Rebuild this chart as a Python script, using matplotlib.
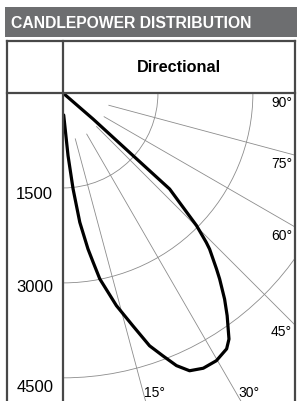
import matplotlib
matplotlib.use("Agg")
import matplotlib.pyplot as plt
from matplotlib.lines import Line2D
from matplotlib.patches import Rectangle, Circle
import numpy as np

W, H = 297, 401

TITLE = "CANDLEPOWER DISTRIBUTION"
SUBTITLE = "Directional"
RINGS = [1500, 3000, 4500]
RING_LABELS = ["1500", "3000", "4500"]
SPOKES = [15, 30, 45, 60, 75, 90]
SPOKE_LABELS = ["15°", "30°", "45°", "60°", "75°", "90°"]

# candlepower curve: angle from nadir (deg) and candela
CURVE_ANGLE = [1.8, 4.6, 6.0, 7.4, 9.1, 10.1, 11.2, 14.1, 16.7, 18.9, 20.8,
               22.6, 24.5, 27.0, 29.8, 32.6, 34.0, 36.4, 38.1, 40.1, 41.1,
               43.2, 43.8, 45.2, 48.0, 48.2, 49.1, 49.5]
CURVE_CD = [348, 994, 1525, 2060, 2496, 2716, 2995, 3464, 3839, 4221, 4441,
            4665, 4822, 4880, 4874, 4798, 4689, 4370, 4137, 3842, 3689,
            3383, 3270, 2973, 2267, 1485, 627, 0]

LINE = "#484848"
GRID = "#8c8c8c"
HEADER = "#6d6e70"
FONT = ["Liberation Sans", "DejaVu Sans"]


def fx(px):
    return px / W


def fy(py):
    return 1 - py / H


fig = plt.figure(figsize=(W / 100, H / 100), dpi=100)

# header band
fig.patches.append(Rectangle((fx(5), fy(37)), fx(292), 30 / H, transform=fig.transFigure,
                             facecolor=HEADER, edgecolor="none"))
fig.text(fx(11), fy(24), TITLE, color="white", fontsize=11.3, fontweight="bold",
         family=FONT, ha="left", va="center")

# table lines
for (x0, y0, x1, y1) in [(7, 41, 7, 401), (295, 41, 295, 401), (63, 41, 63, 401),
                         (7, 41, 295, 41), (7, 93, 295, 93)]:
    fig.lines.append(Line2D([fx(x0), fx(x1)], [fy(y0), fy(y1)], transform=fig.transFigure,
                            color=LINE, lw=1.6, solid_capstyle="projecting"))

fig.text(fx(179), fy(67.5), SUBTITLE, fontsize=11.7, fontweight="bold",
         family=FONT, ha="center", va="center")

# polar plot area
ax = fig.add_axes([fx(63), 0, fx(232), fy(93)])
ax.set_xlim(0, 232 / 0.0633)
ax.set_ylim(308 / 0.0633, 0)
ax.axis("off")

for r in RINGS:
    ax.add_patch(Circle((0, 0), r, facecolor="none", edgecolor=GRID, lw=0.6))

for a in SPOKES:
    t = np.radians(a)
    ax.plot([750 * np.sin(t), 9000 * np.sin(t)], [750 * np.cos(t), 9000 * np.cos(t)],
            color=GRID, lw=0.6)

th = np.radians(CURVE_ANGLE)
cd = np.array(CURVE_CD)
ax.plot(cd * np.sin(th), cd * np.cos(th), color="black", lw=2.3,
        solid_joinstyle="round", solid_capstyle="round")

for r, lab, yc in zip(RINGS, RING_LABELS, [1596, 3065, 4645]):
    ax.text(-0.122, yc, lab, transform=ax.get_yaxis_transform(), ha="center",
            va="center", fontsize=12, family=FONT, clip_on=False)

for lab, yc in zip(SPOKE_LABELS[2:], [3776, 2259, 1122, 158]):
    ax.text(0.987, yc, lab, transform=ax.get_yaxis_transform(), ha="right",
            va="center", fontsize=10, family=FONT)
for lab, xc in zip(SPOKE_LABELS[:2], [1275, 2770]):
    ax.text(xc, 4739, lab, ha="left", va="center", fontsize=10, family=FONT)

fig.savefig("out.png", dpi=100)
